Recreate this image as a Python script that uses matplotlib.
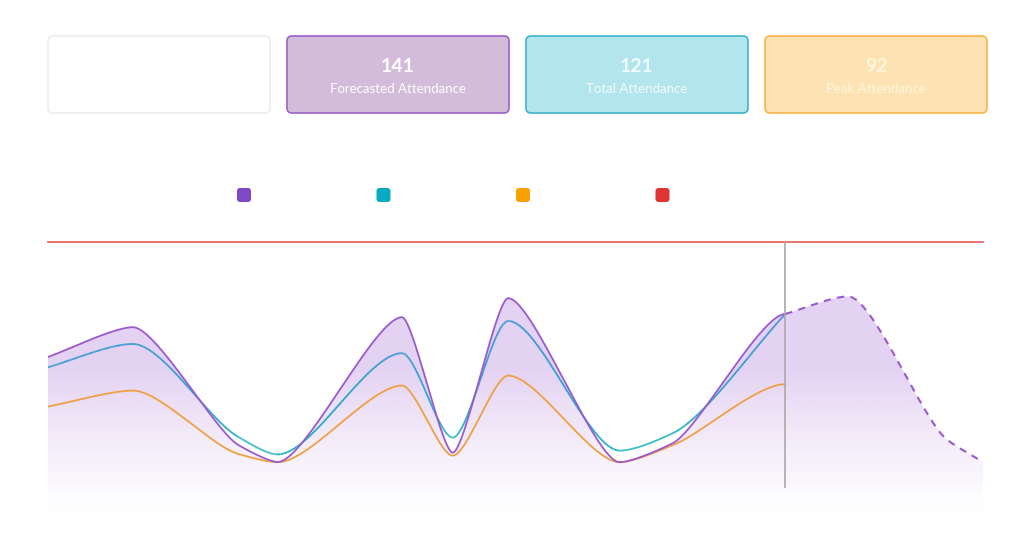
import numpy as np
import matplotlib.pyplot as plt
from matplotlib.patches import FancyBboxPatch, Polygon
from matplotlib.collections import LineCollection
from matplotlib.colors import to_rgb

plt.rcParams['font.family'] = ['Lato', 'DejaVu Sans']

# data
hours = [8.00, 9.27, 10.85, 11.44, 13.30, 14.06, 14.89, 16.56, 17.36, 19.04]
forecasted = [81.5, 96.4, 37.5, 29, 101.4, 33.7, 110.9, 28.9, 38.5, 103]
total = [76.4, 88, 41.5, 32.8, 83.4, 41.2, 99.5, 34.7, 43.5, 103]
peak = [56.7, 64.7, 33, 28.9, 67.2, 32.2, 72.2, 28.9, 37.5, 67.9]
forecast_hours = [19.04, 19.98, 21.45, 22.0]
forecast_ahead = [103, 111.8, 40.5, 29]
capacity = 139
now_hour = 19.04

card_values = ['', '141', '121', '92']
card_labels = ['', 'Forecasted Attendance', 'Total Attendance', 'Peak Attendance']

PURPLE = '#9b59d0'
TEAL_TOP = '#3d95d8'
TEAL_BOT = '#12b0bf'
ORANGE = '#f0a044'
RED = '#e85a5a'


def smooth(x, y, handle=0.22, n=80, flat_end=False):
    # monotone tangents (Fritsch-Carlson), but shorter bezier handles so the
    # line runs straight between points and only the corners get rounded
    x = np.asarray(x, float)
    y = np.asarray(y, float)
    h = np.diff(x)
    d = np.diff(y) / h
    m = np.zeros_like(y)
    m[0], m[-1] = d[0], d[-1]
    if flat_end:
        m[-1] = 0
    for i in range(1, len(y) - 1):
        if d[i - 1] * d[i] > 0:
            w1 = 2 * h[i] + h[i - 1]
            w2 = h[i] + 2 * h[i - 1]
            m[i] = (w1 + w2) / (w1 / d[i - 1] + w2 / d[i])
    t = np.linspace(0, 1, n)[:, None]
    out = []
    for i in range(len(x) - 1):
        p0 = np.array([x[i], y[i]])
        p3 = np.array([x[i + 1], y[i + 1]])
        p1 = p0 + handle * h[i] * np.array([1, m[i]])
        p2 = p3 - handle * h[i] * np.array([1, m[i + 1]])
        b = (1 - t) ** 3 * p0 + 3 * (1 - t) ** 2 * t * p1 + 3 * (1 - t) * t ** 2 * p2 + t ** 3 * p3
        out.append(b if i == 0 else b[1:])
    out = np.vstack(out)
    return out[:, 0], out[:, 1]


fig = plt.figure(figsize=(10.24, 5.55), dpi=100)

# overlay in pixel coords for the cards and legend
ov = fig.add_axes([0, 0, 1, 1])
ov.set_xlim(0, 1024)
ov.set_ylim(555, 0)
ov.axis('off')

card_fill = ['#ffffff', '#d3bbda', '#b3e5ec', '#fde2b3']
card_edge = ['#ececec', '#9c62c9', '#3fb4c9', '#f6b64c']
card_text = ['#ffffff', '#ffffff', '#f2fbfc', '#fff6df']
for i in range(4):
    x0 = 48 + i * 239
    ov.add_patch(FancyBboxPatch((x0, 36), 222, 77, boxstyle='round,pad=0,rounding_size=5',
                                facecolor=card_fill[i], edgecolor=card_edge[i], linewidth=1.2))
    ov.text(x0 + 111, 67, card_values[i], ha='center', va='center', fontsize=14,
            fontweight='bold', color=card_text[i])
    ov.text(x0 + 111, 89, card_labels[i], ha='center', va='center', fontsize=9.5,
            color=card_text[i])

legend_colors = ['#7f48c7', '#0aaac4', '#f9a102', '#dd3535']
for i, c in enumerate(legend_colors):
    cx = 244 + i * 139.5
    ov.add_patch(FancyBboxPatch((cx - 7, 188), 14, 14, boxstyle='round,pad=0,rounding_size=3',
                                facecolor=c, edgecolor='none'))

# main chart
ax = fig.add_axes([48 / 1024, (555 - 520) / 555, 935 / 1024, 278 / 555])
ax.set_xlim(8, 22)
ax.set_ylim(0, capacity)
ax.axis('off')

fx, fy = smooth(hours, forecasted, flat_end=True)
tx, ty = smooth(hours, total, handle=0.28)
px, py = smooth(hours, peak, handle=0.26, flat_end=True)
ax_, ay_ = smooth(forecast_hours, forecast_ahead, handle=0.25)

# gradient fill under the forecast curve
full_x = np.concatenate([fx, ax_[1:]])
full_y = np.concatenate([fy, ay_[1:]])
verts = np.column_stack([np.r_[full_x[0], full_x, full_x[-1]], np.r_[0, full_y, 0]])
clip = Polygon(verts, closed=True, facecolor='none', edgecolor='none', transform=ax.transData)
ax.add_patch(clip)
grid_y = np.linspace(capacity, 0, 300)
alpha = 0.27 * np.clip(grid_y / 75, 0, 1) ** 1.3
rgba = np.zeros((300, 2, 4))
rgba[..., :3] = to_rgb('#9b59d0')
rgba[..., 3] = alpha[:, None]
img = ax.imshow(rgba, extent=[8, 22, 0, capacity], aspect='auto', zorder=1, interpolation='bilinear')
img.set_clip_path(clip)

ax.plot(px, py, color=ORANGE, lw=1.3, zorder=3)

# total line shifts from blue at the top to teal at the bottom
pts = np.column_stack([tx, ty]).reshape(-1, 1, 2)
segs = np.concatenate([pts[:-1], pts[1:]], axis=1)
c_top, c_bot = np.array(to_rgb(TEAL_TOP)), np.array(to_rgb(TEAL_BOT))
frac = np.clip((ty[:-1] - 35) / 60, 0, 1)[:, None]
cols = c_bot + (c_top - c_bot) * frac
ax.add_collection(LineCollection(segs, colors=cols, linewidths=1.3, zorder=4))

ax.plot(fx, fy, color=PURPLE, lw=1.3, zorder=5)
ax.plot(ax_, ay_, color=PURPLE, lw=1.5, ls=(0, (3.5, 3)), zorder=5)

ax.axhline(capacity, color=RED, lw=1.2, zorder=2, clip_on=False)
ax.plot([now_hour, now_hour], [16.5, capacity], color='#a9a9a9', lw=1.2, zorder=6)

fig.savefig('out.png', dpi=100)
